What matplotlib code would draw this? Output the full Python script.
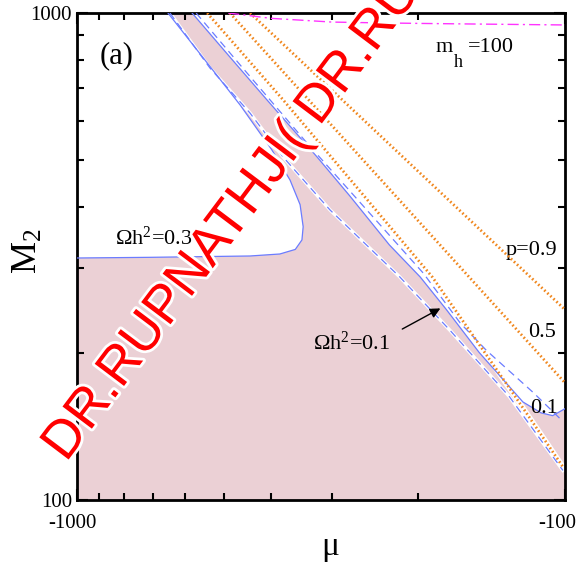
import numpy as np
import matplotlib
matplotlib.use("Agg")
import matplotlib.pyplot as plt
import matplotlib.patheffects as pe
import matplotlib.transforms as mtransforms
from matplotlib.ticker import FixedLocator, NullFormatter

# ── data: x = |mu| (axis shown as -1000 ... -100), y = M2 ─────────────────────
# Omega h^2 = 0.3 contour (left edge of shaded band)
om03_mu = [651, 547, 463, 399, 366, 349, 344, 346, 357, 384, 442, 709, 1000]
om03_m2 = [1000, 801, 647, 524, 454, 404, 364, 342, 327, 320, 317, 315, 314]

# Omega h^2 = 0.1 contour (right edge of shaded band)
om01_mu = [581, 486, 408, 322, 276, 229, 198, 175, 150, 122, 112, 106, 100]
om01_m2 = [1000, 812, 663, 506, 421, 334, 287, 246, 201, 159, 151, 149, 154]

# second parameter set (dashed)
dsh_in_mu = [645, 534, 442, 378, 303, 218, 172, 130, 101]
dsh_in_m2 = [1000, 771, 623, 506, 394, 287, 223, 163, 115]
dsh_out_mu = [570, 463, 338, 195, 164, 145, 116, 101]
dsh_out_m2 = [1000, 782, 541, 292, 231, 203, 166, 145]

# p contours (dotted)
p09_mu = [442, 100]
p09_m2 = [1000, 246]
p05_mu = [486, 100]
p05_m2 = [1000, 174]
p01_mu = [541, 378, 187, 157, 128, 101]
p01_m2 = [1000, 663, 287, 223, 166, 117]

# m_h = 100 line
mh_mu = [490, 400, 300, 250, 200, 150, 100]
mh_m2 = [1000, 975, 958, 955, 952, 949, 945]

PINK = "#ebd0d5"
BLUE = "#6b7cff"
ORANGE = "#f0871e"

plt.rcParams["font.family"] = ["Liberation Serif", "DejaVu Serif"]
plt.rcParams["mathtext.fontset"] = "custom"
plt.rcParams["mathtext.rm"] = "Liberation Serif"
plt.rcParams["mathtext.it"] = "Liberation Serif:italic"

fig = plt.figure(figsize=(5.77, 5.63), dpi=100)
ax = fig.add_axes([77 / 577, 1 - 500 / 563, (565 - 77) / 577, (500 - 13) / 563])
ax.set_xscale("log")
ax.set_yscale("log")
ax.set_xlim(1000, 100)
ax.set_ylim(100, 1000)

# shaded region: below the 0.1 edge and outside the 0.3 pocket
poly_x = [1000] + om03_mu[::-1] + om01_mu + [100]
poly_y = [100] + om03_m2[::-1] + om01_m2 + [100]
ax.fill(poly_x, poly_y, color=PINK, lw=0, zorder=1)

ax.plot(om03_mu, om03_m2, color=BLUE, lw=0.9, zorder=3)
ax.plot(om01_mu, om01_m2, color=BLUE, lw=0.9, zorder=3)

# dashed set, the inner one sits on a white stripe
ax.plot(dsh_in_mu, dsh_in_m2, color="white", lw=2.5, zorder=2)
ax.plot(dsh_in_mu, dsh_in_m2, color=BLUE, lw=0.9, ls=(0, (6, 4)), zorder=3)
ax.plot(dsh_out_mu, dsh_out_m2, color=BLUE, lw=0.9, ls=(0, (6, 4)), zorder=3)

ax.plot(p01_mu, p01_m2, color="white", lw=4, zorder=2)
for mu, m2 in [(p09_mu, p09_m2), (p05_mu, p05_m2), (p01_mu, p01_m2)]:
    ax.plot(mu, m2, color=ORANGE, lw=2, ls=(0, (0.6, 0.9)), zorder=4)

ax.plot(mh_mu, mh_m2, color="#ff33ff", lw=1, ls=(0, (8, 3, 1.5, 3)), zorder=4)

# labels
ax.text(0.047, 0.897, "(a)", transform=ax.transAxes, fontsize=22, va="baseline")
ax.text(0.734, 0.92, "m", transform=ax.transAxes, fontsize=16, va="baseline")
ax.text(0.772, 0.89, "h", transform=ax.transAxes, fontsize=13, va="baseline")
ax.text(0.801, 0.92, "=100", transform=ax.transAxes, fontsize=16, va="baseline")
ax.text(0.078, 0.525, r"Ωh$^2$=0.3", transform=ax.transAxes, fontsize=16, va="baseline")
ax.text(0.484, 0.308, r"Ωh$^2$=0.1", transform=ax.transAxes, fontsize=16, va="baseline")
ax.text(0.879, 0.503, "p=0.9", transform=ax.transAxes, fontsize=16, va="baseline")
ax.text(0.924, 0.335, "0.5", transform=ax.transAxes, fontsize=16, va="baseline")
ax.text(0.928, 0.179, "0.1", transform=ax.transAxes, fontsize=16, va="baseline")
ax.annotate("", xy=(178, 249), xytext=(218, 223),
            arrowprops=dict(arrowstyle="-|>", color="black", lw=1, mutation_scale=15))

# axes styling
for s in ax.spines.values():
    s.set_linewidth(2)
ax.tick_params(which="both", direction="in", top=True, right=True, width=1.5)
ax.tick_params(which="major", length=8, labelsize=15)
ax.tick_params(axis="x", which="major", pad=10)
ax.tick_params(which="minor", length=5)
ax.xaxis.set_major_locator(FixedLocator([100, 1000]))
ax.yaxis.set_major_locator(FixedLocator([100, 1000]))
ax.set_xticklabels(["-100", "-1000"])
ax.set_yticklabels(["100", "1000"])
ax.xaxis.set_minor_formatter(NullFormatter())
ax.yaxis.set_minor_formatter(NullFormatter())
# pull the end labels inwards a little, as in the original
shift_l = mtransforms.ScaledTranslation(-8 / 100, 0, fig.dpi_scale_trans)
ax.get_xticklabels()[0].set_transform(ax.get_xticklabels()[0].get_transform() + shift_l)
shift_r = mtransforms.ScaledTranslation(-5 / 100, 0, fig.dpi_scale_trans)
ax.get_xticklabels()[1].set_transform(ax.get_xticklabels()[1].get_transform() + shift_r)
ax.set_xlabel("μ", fontsize=24)
ax.xaxis.set_label_coords(0.518, -0.064)
ax.set_ylabel(r"M$_2$", fontsize=26)
ax.yaxis.set_label_coords(-0.066, 0.511)

# watermark
fig.text(66 / 577, 1 - 463 / 563, "DR.RUPNATHJI( DR.RU", color="red", fontsize=38.5,
         family="Liberation Sans", rotation=53, rotation_mode="anchor", ha="left", va="baseline",
         path_effects=[pe.withStroke(linewidth=4, foreground="white")], zorder=10)

fig.savefig("out.png", dpi=100)
